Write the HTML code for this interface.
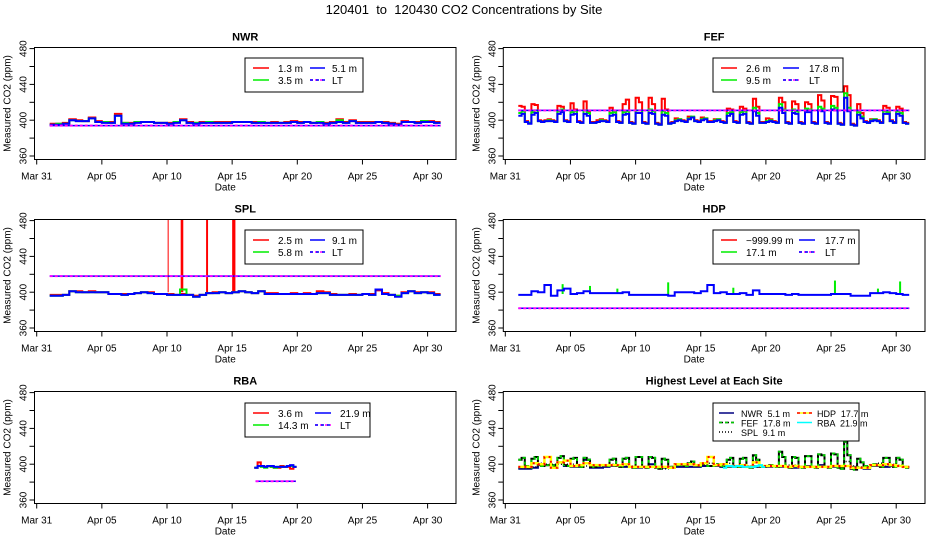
<!DOCTYPE html>
<html><head><meta charset="utf-8"><style>
html,body{margin:0;padding:0;background:#fff;}
svg text{font-family:"Liberation Sans",Arial,sans-serif;white-space:pre;}
</style></head><body>
<svg id="chart" xmlns="http://www.w3.org/2000/svg" width="936" height="540" viewBox="0 0 936 540">
<rect width="936" height="540" fill="#fff"/>
<text x="464" y="14" font-size="13" text-anchor="middle">120401  to  120430 CO2 Concentrations by Site</text>
</svg>
<script>
// ---- data ----
const xTickLabels = ["Mar 31","Apr 05","Apr 10","Apr 15","Apr 20","Apr 25","Apr 30"];
const xTickDays = [0,5,10,15,20,25,30];
const yTicks = [360,380,400,420,440,460,480];
const yLabels = [360,400,440,480];

const nwrBlue = [395,395,396,400,399,399,402,398,397,397,405,396,396,397,398,398,397,397,396,397,400,397,396,397,397,397,397,397,398,398,398,397,397,397,397,397,397,398,397,398,397,397,396,397,398,397,399,397,397,397,398,397,396,395,398,398,397,398,398,397];
const nwrRed = [396,396,397,401,400,399,403,399,398,398,407,397,397,398,398,398,397,397,397,398,401,398,397,398,398,398,398,398,398,398,398,398,398,397,398,397,398,399,398,398,397,398,397,398,401,398,400,398,398,398,398,398,397,396,399,398,398,399,399,398];
const nwrGreen = [395,396,396,400,399,399,402,398,398,397,405,397,396,398,398,398,397,397,396,398,400,397,397,397,398,397,397,397,398,398,398,397,398,397,397,397,397,398,397,398,397,398,396,397,400,397,399,397,397,397,398,397,396,395,398,398,397,399,398,397];
const nwrLT = 394;

const fefBlue = [405,407,398,396,406,408,399,398,399,399,399,398,407,409,399,398,406,407,398,397,407,405,397,397,398,399,399,398,405,406,398,397,406,407,397,396,408,408,397,396,408,407,396,395,406,405,396,397,399,400,399,398,401,403,399,398,400,401,398,398,399,400,398,397,405,407,398,397,406,407,397,396,410,405,397,397,398,399,398,397,414,408,397,396,408,407,397,396,409,409,397,396,411,410,397,396,412,411,396,395,425,410,395,394,406,402,398,397,399,400,399,397,407,407,399,397,407,405,397,396];
const fefGreen = [408,410,398,397,409,411,399,398,399,400,399,398,410,412,399,398,409,410,398,397,411,408,397,397,398,400,399,398,408,409,398,397,409,410,397,396,411,411,397,396,412,410,396,395,410,408,396,397,400,401,399,398,402,404,399,398,401,402,398,398,400,401,398,397,408,409,398,397,409,410,397,396,414,408,397,397,399,400,398,397,418,412,397,396,412,410,397,396,413,412,397,396,415,413,397,396,416,414,396,395,430,414,395,394,409,404,398,397,400,401,399,397,410,409,399,397,410,408,397,396];
const fefRed = [416,415,399,397,418,417,400,399,400,401,400,399,416,415,400,399,419,412,399,398,421,410,398,398,400,401,400,399,414,410,399,398,418,423,398,397,425,420,398,397,425,418,397,396,424,412,397,398,402,401,400,399,404,403,400,399,403,402,399,399,401,401,399,398,413,412,399,398,415,413,398,397,424,415,398,398,402,401,399,398,425,420,398,397,421,418,398,397,420,418,398,397,428,422,398,397,427,426,397,396,438,428,396,395,418,408,399,398,401,401,400,398,416,414,400,398,415,413,398,397];
const fefLT = 411;

const splBlue = [396,396,397,401,400,400,400,400,400,398,398,397,398,399,400,399,398,398,397,397,397,397,395,397,399,399,400,399,400,401,400,399,401,398,398,398,398,398,398,398,398,399,399,397,397,397,397,397,398,397,403,398,397,395,399,401,399,400,399,397];
const splRed = [397,397,397,401,401,400,401,400,400,398,398,398,398,399,400,400,398,398,398,397,398,397,396,397,399,400,400,399,400,401,400,399,401,399,399,398,398,399,398,399,398,401,400,398,397,397,398,397,398,398,402,399,397,396,400,401,400,400,400,398];
const splGreen = [396,396,397,401,400,400,400,400,400,398,398,397,398,399,400,399,398,398,397,397,403,397,395,397,399,399,400,399,400,401,400,399,401,398,398,398,398,398,398,398,398,399,399,397,397,397,397,397,398,397,403,398,397,396,399,401,399,400,399,397];
const splSpikeStart = [10.05,11.05,13.0,15.0];
const splSpikeEnd = [10.12,11.25,13.15,15.25];
const splLT = 418;

const hdpBlue = [397,397,401,400,408,396,402,404,398,399,401,399,399,399,399,399,400,397,397,397,397,397,397,396,400,400,400,399,401,408,399,400,398,398,399,397,402,398,398,398,398,397,398,397,397,397,397,397,398,398,398,396,396,396,399,399,400,399,398,397];
const hdpGreenSpikeDay = [4.4,6.5,8.6,12.5,17.5,25.3,28.6,30.3];
const hdpGreenSpikeVal = [409,407,404,411,405,413,404,412];
const hdpLT = 382;

const rbaStart = 16.7;
const rbaBlue = [396,398,398,397,398,398,397,397,397,397,398,399,397];
const rbaRed = [396,402,398,397,398,397,396,396,398,397,397,395,397];
const rbaGreen = [396,398,397,396,398,397,396,397,397,397,398,398,397];
const rbaLT = 381;
const rbaLTStart = 16.8, rbaLTEnd = 19.9;

// ---- layout ----
const NS = "http://www.w3.org/2000/svg";
const svg = document.getElementById('chart');
const PX_PER_DAY = 13.03, PX_PER_PPM = 0.895;
function mk(tag, attrs, parent){const e=document.createElementNS(NS,tag);for(const k in attrs)e.setAttribute(k,attrs[k]);(parent||svg).appendChild(e);return e;}
function panel(col,row){
  const X0 = col===0 ? 36.7 : 505.3;
  const left = col===0 ? 34.5 : 503.3;
  const right = col===0 ? 456 : 925;
  const top = 47.5 + row*172, bottom = 159.5 + row*172;
  return {X0,left,right,top,bottom,row,
    x:t=>X0+t*PX_PER_DAY, y:v=>156+row*172-(v-360)*PX_PER_PPM};
}
function stepPath(p,vals,t0,dt){
  let d=`M${p.x(t0).toFixed(1)},${p.y(vals[0]).toFixed(1)}`;
  for(let i=0;i<vals.length;i++){
    if(i>0) d+=`V${p.y(vals[i]).toFixed(1)}`;
    d+=`H${p.x(t0+(i+1)*dt).toFixed(1)}`;
  }
  return d;
}
function axes(p,title,id){
  const g=mk('g',{});
  
  
  const t=mk('text',{x:(p.left+p.right)/2,y:p.top-7,'font-size':11,'font-weight':'bold','text-anchor':'middle'},g);
  t.textContent=title;
  
  
  const cp=mk('clipPath',{id:'clip-'+id},g);
  mk('rect',{x:p.left,y:p.top,width:p.right-p.left,height:p.bottom-p.top},cp);
  xTickDays.forEach((d,i)=>{
    const tk=mk('line',{x1:p.x(d),x2:p.x(d),y1:p.bottom,y2:p.bottom+5,stroke:'#000'},g);
    
    
    const lb=mk('text',{x:p.x(d),y:p.bottom+20,'font-size':10,'text-anchor':'middle'},g);
    lb.textContent=xTickLabels[i];
    
    
  });
  yTicks.forEach(v=>{
    const tk=mk('line',{x1:p.left-5,x2:p.left,y1:p.y(v),y2:p.y(v),stroke:'#000'},g);
    
    
  });
  yLabels.forEach(v=>{
    const lb=mk('text',{x:0,y:0,'font-size':10,'text-anchor':'middle',transform:`translate(${p.left-8},${p.y(v)}) rotate(-90)`},g);
    lb.textContent=v;
    
    
  });
  const yt=mk('text',{x:0,y:0,'font-size':10,'text-anchor':'middle',transform:`translate(${p.left-24},${(p.top+p.bottom)/2}) rotate(-90)`},g);
  yt.textContent='Measured CO2 (ppm)';
  
  
  const xt=mk('text',{x:(p.left+p.right)/2-20,y:p.bottom+31,'font-size':10,'text-anchor':'middle'},g);
  xt.textContent='Date';
  
  
  const plot=mk('g',{'clip-path':`url(#clip-${id})`},g);
  return {g,plot};
}
function finishBox(p,g){
  const b=mk('rect',{x:p.left,y:p.top,width:p.right-p.left,height:p.bottom-p.top,fill:'none',stroke:'#000'},g);
  
  
}
function series(plot,p,vals,t0,dt,color,w,name,dash){
  const a={d:stepPath(p,vals,t0,dt),fill:'none',stroke:color,'stroke-width':w};
  if(dash)a['stroke-dasharray']=dash;
  const e=mk('path',a,plot);
  
  
  return e;
}
function ltLine(plot,p,v,t1,t2,name){
  const e=mk('line',{x1:p.x(t1),x2:p.x(t2),y1:p.y(v),y2:p.y(v),stroke:'#0000ff','stroke-width':1.5},plot);
  
  
  const e2=mk('line',{x1:p.x(t1),x2:p.x(t2),y1:p.y(v),y2:p.y(v),stroke:'#ff00ff','stroke-width':2,'stroke-dasharray':'3,2'},plot);
  
  
}
function legend(g,bx,by,bw,bh,entries,name,fs){
  const lg=mk('g',{},g);
  
  
  mk('rect',{x:bx,y:by,width:bw,height:bh,fill:'#fff',stroke:'#000'},lg);
  entries.forEach(en=>{
    const [lx1,lx2,ty,tx,label,color,dash,color2]=en;
    mk('line',{x1:bx+lx1,x2:bx+lx2,y1:by+ty,y2:by+ty,stroke:color,'stroke-width':1.5,'stroke-dasharray':dash||'none'},lg);
    if(color2) mk('line',{x1:bx+lx1,x2:bx+lx2,y1:by+ty,y2:by+ty,stroke:color2,'stroke-width':1.5,'stroke-dasharray':'3,3'},lg);
    const t=mk('text',{x:bx+tx,y:by+ty+4,'font-size':fs||10},lg);
    t.textContent=label;
    
    
  });
}

// NWR
{const p=panel(0,0);const {g,plot}=axes(p,'NWR','nwr');
 series(plot,p,nwrRed,1,0.5,'#ff0000',2,'nwr-1.3m-line');
 series(plot,p,nwrGreen,1,0.5,'#00ee00',2,'nwr-3.5m-line');
 series(plot,p,nwrBlue,1,0.5,'#0000ff',2,'nwr-5.1m-line');
 ltLine(plot,p,nwrLT,1,31,'nwr-lt-line');
 finishBox(p,g);
 legend(g,245,58,118,34,[[8,24,10,33,'1.3 m','#ff0000'],[8,24,22,33,'3.5 m','#00ee00'],[65,80,10,87,'5.1 m','#0000ff'],[65,80,22,87,'LT','#ff00ff','3,2','#0000ff']],'nwr-legend');}
// FEF
{const p=panel(1,0);const {g,plot}=axes(p,'FEF','fef');
 series(plot,p,fefRed,1,0.25,'#ff0000',2,'fef-2.6m-line');
 series(plot,p,fefGreen,1,0.25,'#00ee00',2,'fef-9.5m-line');
 series(plot,p,fefBlue,1,0.25,'#0000ff',2,'fef-17.8m-line');
 ltLine(plot,p,fefLT,1,31,'fef-lt-line');
 finishBox(p,g);
 legend(g,713,58,130,34,[[8,24,10,33,'2.6 m','#ff0000'],[8,24,22,33,'9.5 m','#00ee00'],[70,86,10,96,'17.8 m','#0000ff'],[70,86,22,96,'LT','#ff00ff','3,2','#0000ff']],'fef-legend');}
// SPL
{const p=panel(0,1);const {g,plot}=axes(p,'SPL','spl');
 series(plot,p,splRed,1,0.5,'#ff0000',2,'spl-2.5m-line');
 splSpikeStart.forEach((s,i)=>{const r=mk('rect',{x:p.x(s),y:p.top,width:Math.max(1,p.x(splSpikeEnd[i])-p.x(s)),height:p.y(400)-p.top,fill:'#ff0000'},plot);
   
   });
 series(plot,p,splGreen,1,0.5,'#00ee00',2,'spl-5.8m-line');
 series(plot,p,splBlue,1,0.5,'#0000ff',2,'spl-9.1m-line');
 ltLine(plot,p,splLT,1,31,'spl-lt-line');
 finishBox(p,g);
 legend(g,245,230,118,34,[[8,24,10,33,'2.5 m','#ff0000'],[8,24,22,33,'5.8 m','#00ee00'],[65,80,10,87,'9.1 m','#0000ff'],[65,80,22,87,'LT','#ff00ff','3,2','#0000ff']],'spl-legend');}
// HDP
{const p=panel(1,1);const {g,plot}=axes(p,'HDP','hdp');
 hdpGreenSpikeDay.forEach((d,i)=>{const l=mk('line',{x1:p.x(d),x2:p.x(d),y1:p.y(398),y2:p.y(hdpGreenSpikeVal[i]),stroke:'#00ee00','stroke-width':2},plot);
   
   });
 series(plot,p,hdpBlue,1,0.5,'#0000ff',2,'hdp-17.7m-line');
 ltLine(plot,p,hdpLT,1,31,'hdp-lt-line');
 finishBox(p,g);
 legend(g,713,230,146,34,[[8,24,10,33,'\u2212999.99 m','#ff0000'],[8,24,22,33,'17.1 m','#00ee00'],[86,102,10,112,'17.7 m','#0000ff'],[86,102,22,112,'LT','#ff00ff','3,2','#0000ff']],'hdp-legend');}
// RBA
{const p=panel(0,2);const {g,plot}=axes(p,'RBA','rba');
 series(plot,p,rbaRed,rbaStart,0.25,'#ff0000',2,'rba-3.6m-line');
 series(plot,p,rbaGreen,rbaStart,0.25,'#00ee00',2,'rba-14.3m-line');
 series(plot,p,rbaBlue,rbaStart,0.25,'#0000ff',2,'rba-21.9m-line');
 ltLine(plot,p,rbaLT,rbaLTStart,rbaLTEnd,'rba-lt-line');
 finishBox(p,g);
 legend(g,245,403,125,34,[[8,24,10,33,'3.6 m','#ff0000'],[8,24,22,33,'14.3 m','#00ee00'],[70,86,10,95,'21.9 m','#0000ff'],[70,86,22,95,'LT','#ff00ff','3,2','#0000ff']],'rba-legend');}
// Highest
{const p=panel(1,2);const {g,plot}=axes(p,'Highest Level at Each Site','highest');
 series(plot,p,nwrBlue,1,0.5,'#000080',2,'highest-nwr-line');
 series(plot,p,fefBlue,1,0.25,'#000000',2,'highest-fef-line');
 series(plot,p,fefBlue,1,0.25,'#00cc00',2,'highest-fef-dash','3,3');
 series(plot,p,splBlue,1,0.5,'#000000',1.5,'highest-spl-line','1,2');
 series(plot,p,hdpBlue,1,0.5,'#ffff00',2.5,'highest-hdp-line');
 series(plot,p,hdpBlue,1,0.5,'#ff0000',2,'highest-hdp-dots','2,4');
 series(plot,p,rbaBlue,rbaStart,0.25,'#00ffff',2,'highest-rba-line');
 finishBox(p,g);
 legend(g,713,403,146,38,[[6,21,10,28,'NWR  5.1 m','#000080'],[6,21,19.5,28,'FEF  17.8 m','#000000','4,2','#00cc00'],[6,21,29,28,'SPL  9.1 m','#000000','1,2'],[84,99,10,104,'HDP  17.7 m','#ffff00',null,'#ff0000'],[84,99,19.5,104,'RBA  21.9 m','#00ffff']],'highest-legend',9);}
</script>
</body></html>
